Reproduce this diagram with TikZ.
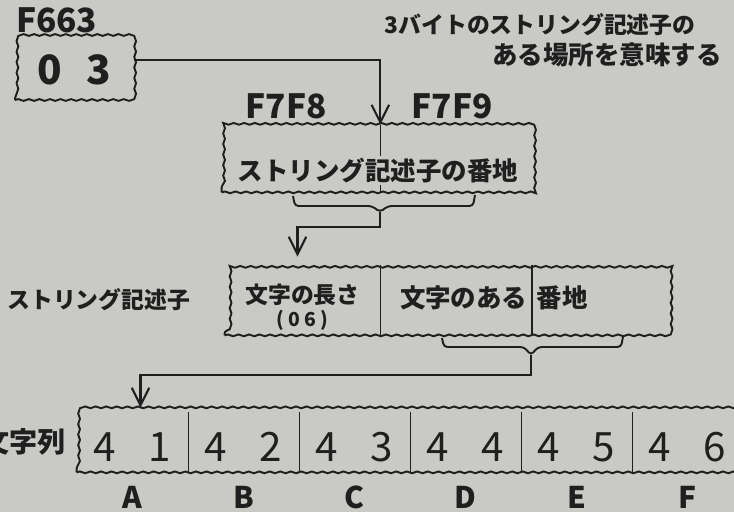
\documentclass[tikz,border=0pt]{standalone}
\usepackage{fontspec}
\setmainfont{Noto Sans CJK JP}
\usepackage{tikz}
\usetikzlibrary{arrows.meta,positioning,fit,calc,decorations.pathmorphing}
\usepackage{xcolor}
\definecolor{Paper}{HTML}{C9C9C6}
\definecolor{Ink}{HTML}{1F1F1F}
\newcommand{\nibs}[3][0.8em]{#2\hspace{#1}#3}
\tikzset{
  wavybox/.style={draw=Ink, line width=1.1pt, inner sep=0pt,
    decorate, decoration={snake, amplitude=0.5pt, segment length=6pt}},
  cell/.style={inner sep=0pt},
  cellsep/.style={draw=Ink, line width=0.6pt},
  jtext/.style={font=\fontsize{#1}{#1}\selectfont\bfseries, text=Ink, inner sep=1pt},
  jtext/.default=14,
  hexlbl/.style={font=\fontsize{19}{20}\selectfont\bfseries, text=Ink, inner sep=1pt},
  bigdig/.style={font=\fontsize{23}{24}\selectfont, text=Ink},
  charlbl/.style={font=\fontsize{17}{18}\selectfont\bfseries, text=Ink},
  linkarr/.style={-{Straight Barb[length=10pt,width=10pt]}, line width=1.2pt, draw=Ink},
  bracket/.style={draw=Ink, line width=1.1pt, rounded corners=2pt},
}

\begin{document}
\begin{tikzpicture}[x=0.02cm, y=-0.02cm]
  \useasboundingbox (0,0) rectangle (734,512);
  \fill[Paper] (0,0) rectangle (734,512);
  \clip (0,0) rectangle (734,512);

  \node[wavybox, bigdig, font=\fontsize{23}{24}\selectfont\bfseries, minimum width=2.36cm, minimum height=1.2cm] (ptr) at (74,70) {\nibs[0.6em]{0}{3}};
  \node[hexlbl, above=2.5pt of ptr.north west, anchor=south west] (ptradr) {F663};
  \node[jtext=13] (cap1) at (540,25) {3バイトのストリング記述子の};
  \node[jtext=14.5] (cap2) at (607,55) {ある場所を意味する};

  \node[cell, minimum width=3.16cm, minimum height=1.34cm] (addrL) at (301,158.5) {};
  \node[cell, minimum width=3.06cm, minimum height=1.34cm, right=0pt of addrL] (addrR) {};
  \node[wavybox, fit=(addrL)(addrR)] (addr) {};
  \draw[cellsep] (addrL.north east) -- (addrL.south east);
  \node[jtext=14.5, fill=Paper] (addrtxt) at ([yshift=-0.24cm]addr.center) {ストリング記述子の番地};
  \node[hexlbl, above=2pt of addrL, xshift=-0.3cm] (f7f8) {F7F8};
  \node[hexlbl, above=2pt of addrR, xshift=-0.1cm] (f7f9) {F7F9};
  \draw[linkarr] ([yshift=0.2cm]ptr.east) -| (addrL.north east);

  \draw[bracket] (293,196) -- (295,206) -- (372,206) -- (380,212) -- (388,206) -- (473,206) -- (475,195);
  \coordinate (tip1) at (380,212);

  \node[cell, minimum width=3.1cm, minimum height=1.4cm] (len) at (302.5,300) {};
  \node[cell, minimum width=3.02cm, minimum height=1.4cm, right=0pt of len] (locH) {};
  \node[cell, minimum width=2.68cm, minimum height=1.4cm, right=0pt of locH] (locL) {};
  \node[wavybox, fit=(len)(locH)(locL)] (desc) {};
  \draw[cellsep] (len.north east) -- (len.south east);
  \draw[cellsep] (locH.north east) -- (locH.south east);
  \node[jtext=13, align=center] (lentxt) at ([yshift=-0.14cm]len.center) {文字の長さ\\{\fontsize{11}{11}\selectfont ( 0 6 )}};
  \node[jtext=14.5, anchor=east] (locA) at ([xshift=-0.05cm, yshift=0.04cm]locH.east) {文字のある};
  \node[jtext=14.5, anchor=west] (locB) at ([xshift=0.05cm, yshift=0.04cm]locL.west) {番地};
  \node[jtext=13, left=0.65cm of len] (desclbl) {ストリング記述子};
  \draw[linkarr] (tip1) -- ++(0,15) -| ([xshift=-0.1cm, yshift=0.16cm]len.north);

  \draw[bracket] (442,338) -- (444,347) -- (524,347) -- (531,355) -- (538,347) -- (621,347) -- (623,337);
  \coordinate (tip2) at (531,355);

  \foreach \hinib/\lonib/\letter [count=\i] in {4/1/A,4/2/B,4/3/C,4/4/D,4/5/E,4/6/F}{
    \node[cell, minimum width=2.22cm, minimum height=1.2cm] (c\i) at ({77+111*(\i-0.5)},442) {};
    \draw[cellsep] (c\i.north east) -- (c\i.south east);
    \node[bigdig] (d\i) at ([yshift=-0.1cm]c\i.center) {\nibs{\hinib}{\lonib}};
    \node[charlbl] (ch\i) at ([yshift=-1.1cm]c\i.center) {\letter};
  }
  \node[wavybox, fit=(c1)(c6)] (str) {};
  \node[jtext=16, left=0.18cm of c1] (strlbl) {文字列};
  \draw[linkarr] (tip2) -- ++(0,20) -| ([xshift=0.16cm, yshift=0.08cm]c1.north);
\end{tikzpicture}
\end{document}
